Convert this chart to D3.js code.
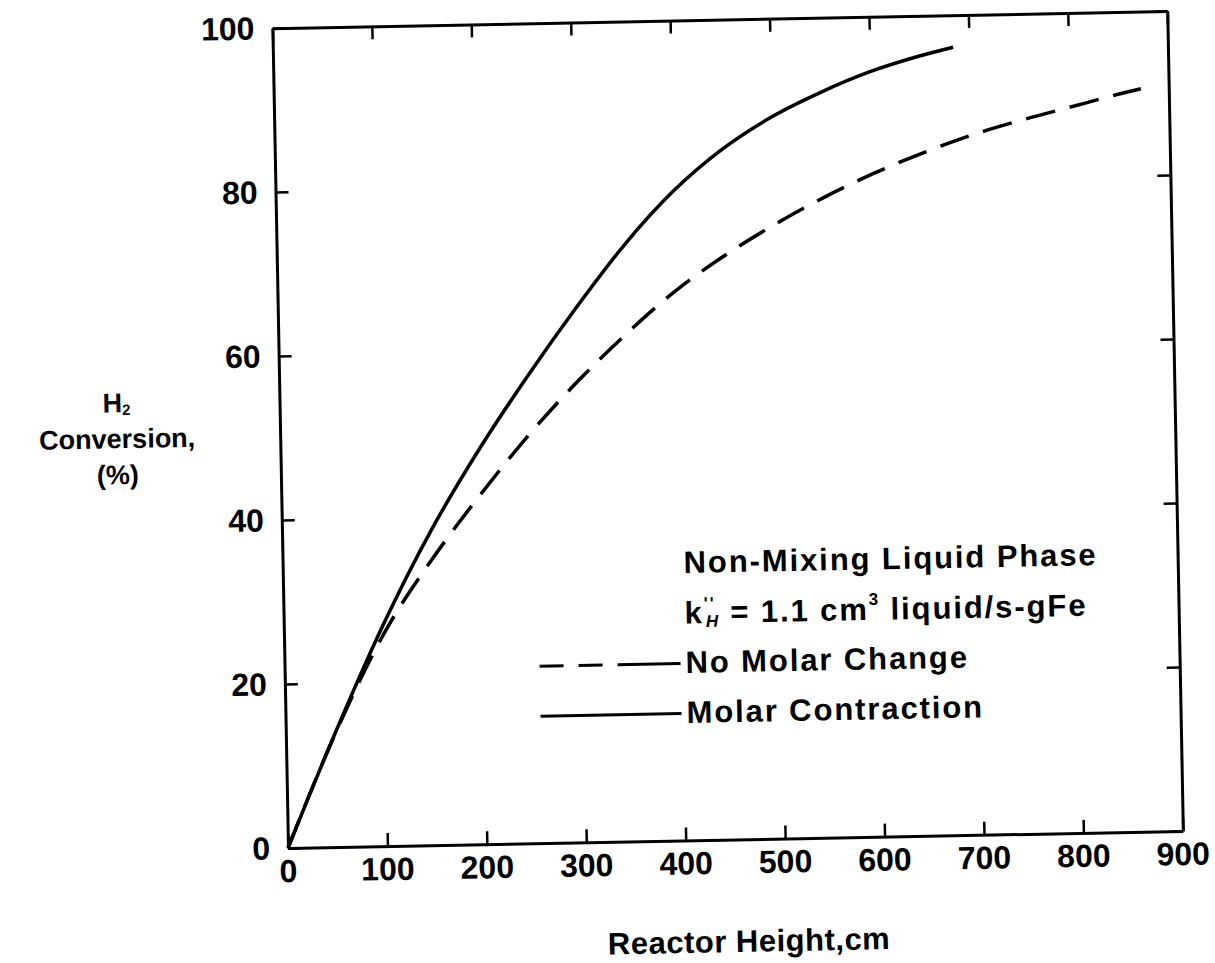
<!DOCTYPE html>
<html>
<head>
<meta charset="utf-8">
<script src="https://cdn.jsdelivr.net/npm/d3@7"></script>
<style>
  html, body { margin: 0; padding: 0; background: #fff; overflow: hidden; }
  svg { display: block; }
  text { font-family: "Liberation Sans", Arial, Helvetica, sans-serif; font-weight: bold; fill: #000; }
</style>
</head>
<body>
<svg id="chart"></svg>
<script>
// dati (altezza reattore in cm, conversione H2 in %)
var heightContraction = [0, 50, 100, 150, 200, 250, 300, 350, 400, 450, 500, 550, 600, 650, 684];
var convContraction   = [0, 14.0, 27.0, 38.4, 48.2, 57.0, 65.2, 72.8, 79.2, 84.2, 88.0, 90.9, 93.3, 95.1, 96.1];

var heightNoChange = [0, 50, 100, 150, 200, 250, 300, 350, 400, 450, 500, 550, 600, 650, 700, 750, 800, 850, 872];
var convNoChange   = [0, 13.9, 25.8, 34.8, 42.6, 49.8, 56.2, 61.9, 67.0, 71.2, 74.8, 78.0, 80.8, 83.2, 85.3, 87.0, 88.5, 90.0, 90.6];

var xTicks = [0, 100, 200, 300, 400, 500, 600, 700, 800, 900];
var yTicks = [0, 20, 40, 60, 80, 100];

var w = 1215, h = 963;
var margin = { top: 28, left: 288 };
var innerWidth = 895, innerHeight = 820;

var svg = d3.select("#chart").attr("width", w).attr("height", h);

// la scansione originale e' leggermente ruotata: ruoto tutto attorno all'origine
var tilt = svg.append("g")
  .attr("transform", "rotate(-1.09," + margin.left + "," + (margin.top + innerHeight) + ")");

var g = tilt.append("g")
  .attr("transform", "translate(" + margin.left + "," + margin.top + ")");

// scale gia' in coordinate della pagina (margini inclusi)
var xScale = d3.scaleLinear().domain([0, 900]).range([margin.left, margin.left + innerWidth]);
var yScale = d3.scaleLinear().domain([0, 100]).range([margin.top + innerHeight, margin.top]);

// assi: solo linee e tacche verso l'interno, su tutti e quattro i lati
function styleAxis(sel) {
  sel.select(".domain").attr("stroke", "#000").attr("stroke-width", 3);
  sel.selectAll(".tick line").attr("stroke", "#000").attr("stroke-width", 2.5);
}

tilt.append("g")
  .attr("transform", "translate(0," + (margin.top + innerHeight) + ")")
  .call(d3.axisBottom(xScale).tickValues(xTicks).tickSizeInner(-13).tickSizeOuter(0).tickFormat(""))
  .call(styleAxis);

tilt.append("g")
  .attr("transform", "translate(" + margin.left + ",0)")
  .call(d3.axisLeft(yScale).tickValues(yTicks).tickSizeInner(-13).tickSizeOuter(0).tickFormat(""))
  .call(styleAxis);

tilt.append("g")
  .attr("transform", "translate(0," + margin.top + ")")
  .call(d3.axisTop(xScale).tickValues(xTicks).tickSizeInner(-13).tickSizeOuter(0).tickFormat(""))
  .call(styleAxis);

tilt.append("g")
  .attr("transform", "translate(" + (margin.left + innerWidth) + ",0)")
  .call(d3.axisRight(yScale).tickValues(yTicks).tickSizeInner(-13).tickSizeOuter(0).tickFormat(""))
  .call(styleAxis);

// etichette delle tacche
tilt.selectAll(".xlab")
  .data(xTicks)
  .enter()
  .append("text")
  .attr("class", "xlab")
  .attr("x", function(d) { return xScale(d); })
  .attr("y", margin.top + innerHeight + 23)
  .attr("text-anchor", "middle")
  .attr("dominant-baseline", "central")
  .style("font-size", "32px")
  .text(function(d) { return d; });

tilt.selectAll(".ylab")
  .data(yTicks)
  .enter()
  .append("text")
  .attr("class", "ylab")
  .attr("x", margin.left - 18)
  .attr("y", function(d) { return yScale(d); })
  .attr("text-anchor", "end")
  .attr("dominant-baseline", "central")
  .style("font-size", "32px")
  .text(function(d) { return d; });

// curve
var line = d3.line()
  .x(function(d) { return xScale(d[0]); })
  .y(function(d) { return yScale(d[1]); })
  .curve(d3.curveMonotoneX);

var noChange = d3.zip(heightNoChange, convNoChange);
var contraction = d3.zip(heightContraction, convContraction);

tilt.append("path")
  .datum(noChange)
  .attr("d", line)
  .attr("fill", "none")
  .attr("stroke", "#000")
  .attr("stroke-width", 3.5)
  .attr("stroke-dasharray", "30,15");

tilt.append("path")
  .datum(contraction)
  .attr("d", line)
  .attr("fill", "none")
  .attr("stroke", "#000")
  .attr("stroke-width", 3.5);

// legenda
var legendX = 689;
var legendFont = "31px";
var legendSpacing = "1.9px";

tilt.append("text")
  .attr("x", legendX).attr("y", 570)
  .attr("dominant-baseline", "central")
  .style("font-size", legendFont)
  .style("letter-spacing", legendSpacing)
  .text("Non-Mixing Liquid Phase");

var kText = tilt.append("text")
  .attr("x", legendX).attr("y", 620)
  .attr("dominant-baseline", "central")
  .style("font-size", legendFont)
  .style("letter-spacing", legendSpacing);
kText.append("tspan").text("k");
kText.append("tspan").attr("dy", -9).style("font-size", "17px").text("''");
kText.append("tspan").attr("dx", -10).attr("dy", 18).style("font-size", "17px").style("font-style", "italic").text("H");
kText.append("tspan").attr("dy", -9).text(" = 1.1 cm");
kText.append("tspan").attr("dy", -10).style("font-size", "17px").text("3");
kText.append("tspan").attr("dy", 10).text(" liquid/s-gFe");

tilt.append("line")
  .attr("x1", 543).attr("x2", 684)
  .attr("y1", 671).attr("y2", 671)
  .attr("stroke", "#000").attr("stroke-width", 3)
  .attr("stroke-dasharray", "24,15,24,15,70");
tilt.append("text")
  .attr("x", legendX).attr("y", 670)
  .attr("dominant-baseline", "central")
  .style("font-size", legendFont)
  .style("letter-spacing", legendSpacing)
  .text("No Molar Change");

tilt.append("line")
  .attr("x1", 543).attr("x2", 684)
  .attr("y1", 721).attr("y2", 721)
  .attr("stroke", "#000").attr("stroke-width", 3);
tilt.append("text")
  .attr("x", legendX).attr("y", 720)
  .attr("dominant-baseline", "central")
  .style("font-size", legendFont)
  .style("letter-spacing", legendSpacing)
  .text("Molar Contraction");

// titolo asse y su tre righe
var yTitleX = 125;
var yTitle = tilt.append("text")
  .attr("x", yTitleX).attr("y", 400)
  .attr("text-anchor", "middle")
  .attr("dominant-baseline", "central")
  .style("font-size", "27px");
yTitle.append("tspan").text("H");
yTitle.append("tspan").attr("dy", 6).style("font-size", "15px").text("2");

tilt.append("text")
  .attr("x", yTitleX).attr("y", 436)
  .attr("text-anchor", "middle")
  .attr("dominant-baseline", "central")
  .style("font-size", "27px")
  .text("Conversion,");

tilt.append("text")
  .attr("x", yTitleX).attr("y", 472)
  .attr("text-anchor", "middle")
  .attr("dominant-baseline", "central")
  .style("font-size", "27px")
  .text("(%)");

// titolo asse x
tilt.append("text")
  .attr("x", 606).attr("y", 950)
  .attr("dominant-baseline", "central")
  .style("font-size", "31px")
  .style("letter-spacing", "0.5px")
  .text("Reactor Height,cm");
</script>
</body>
</html>
